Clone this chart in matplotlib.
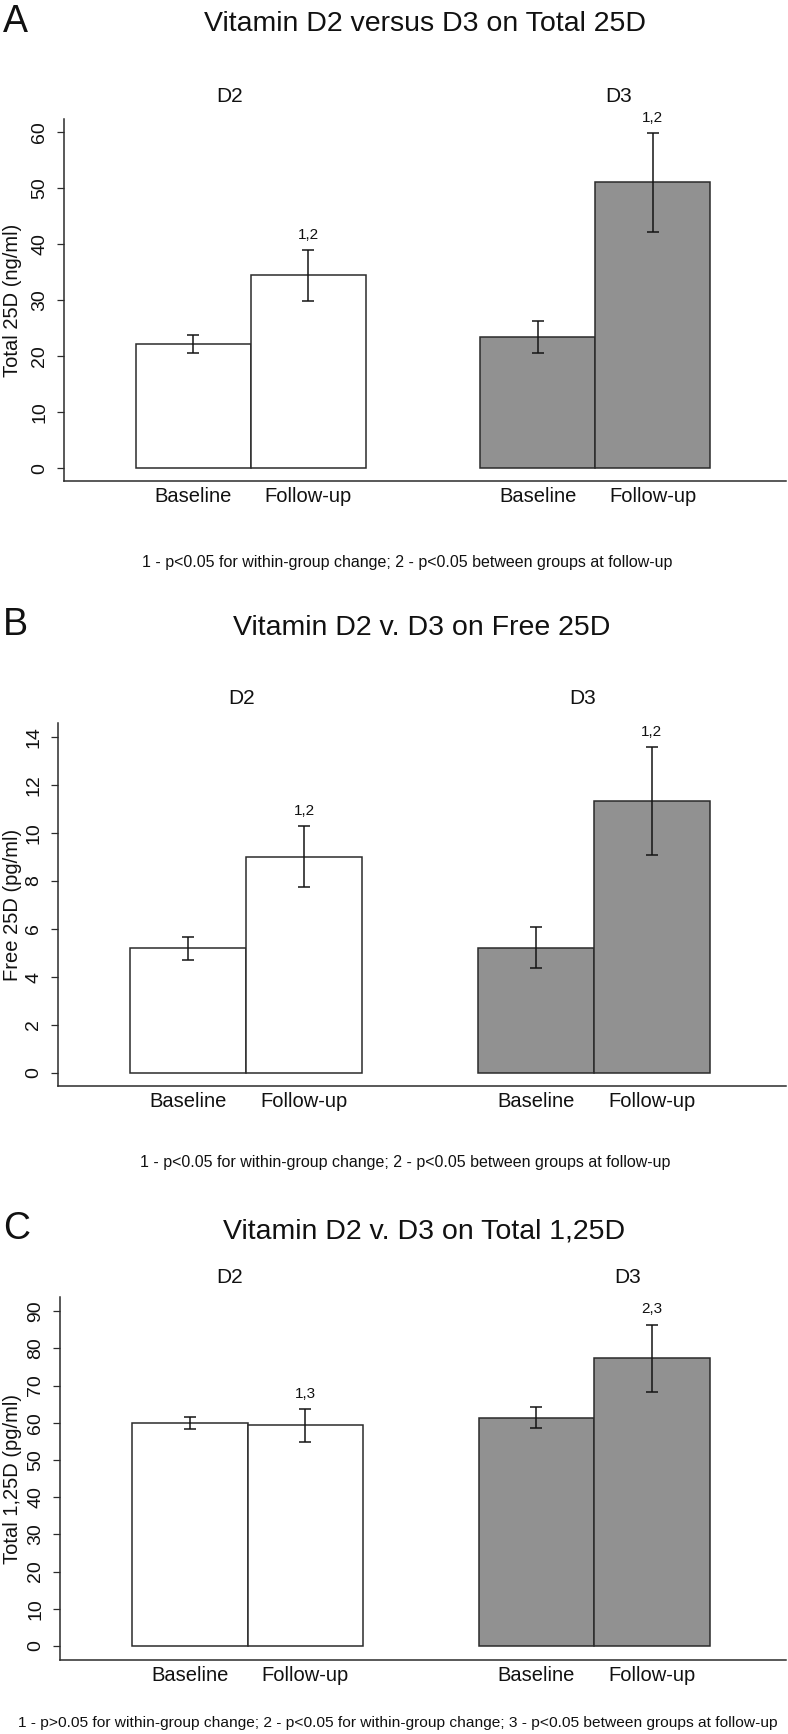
import matplotlib
matplotlib.use("Agg")
import matplotlib.pyplot as plt
from matplotlib import font_manager

# ---------------- data ----------------
groups = ["D2", "D3"]
timepoints = ["Baseline", "Follow-up"]

total25d_d2_mean = [22.2, 34.4]
total25d_d2_err = [1.6, 4.5]
total25d_d3_mean = [23.4, 51.0]
total25d_d3_err = [2.9, 8.8]
total25d_d2_note = ["", "1,2"]
total25d_d3_note = ["", "1,2"]

free25d_d2_mean = [5.19, 9.0]
free25d_d2_err = [0.47, 1.27]
free25d_d3_mean = [5.22, 11.33]
free25d_d3_err = [0.85, 2.23]
free25d_d2_note = ["", "1,2"]
free25d_d3_note = ["", "1,2"]

total125d_d2_mean = [60.0, 59.3]
total125d_d2_err = [1.6, 4.5]
total125d_d3_mean = [61.4, 77.4]
total125d_d3_err = [2.9, 9.0]
total125d_d2_note = ["", "1,3"]
total125d_d3_note = ["", "2,3"]

panel_letters = ["A", "B", "C"]
panel_titles = ["Vitamin D2 versus D3 on Total 25D",
                "Vitamin D2 v. D3 on Free 25D",
                "Vitamin D2 v. D3 on Total 1,25D"]
y_labels = ["Total 25D (ng/ml)", "Free 25D (pg/ml)", "Total 1,25D (pg/ml)"]
y_ticks = [list(range(0, 61, 10)), list(range(0, 15, 2)), list(range(0, 91, 10))]
footnotes = [
    "1 - p<0.05 for within-group change; 2 - p<0.05 between groups at follow-up",
    "1 - p<0.05 for within-group change; 2 - p<0.05 between groups at follow-up",
    "1 - p>0.05 for within-group change; 2 - p<0.05 for within-group change; 3 - p<0.05 between groups at follow-up",
]

panel_data = [
    (total25d_d2_mean, total25d_d2_err, total25d_d2_note,
     total25d_d3_mean, total25d_d3_err, total25d_d3_note),
    (free25d_d2_mean, free25d_d2_err, free25d_d2_note,
     free25d_d3_mean, free25d_d3_err, free25d_d3_note),
    (total125d_d2_mean, total125d_d2_err, total125d_d2_note,
     total125d_d3_mean, total125d_d3_err, total125d_d3_note),
]

# ---------------- layout (pixels) ----------------
W, H = 788, 1734
layout = [
    dict(letter_base=31.7, title_base=31, title_x=425, grp_base=101.7, grp_x=[230, 619],
         left=64, top=119, bottom=481, ylim=(-2.3, 62.3), foot_x=407, foot_base=567, foot_size=11.5),
    dict(letter_base=635, title_base=635, title_x=422, grp_base=704, grp_x=[242, 583],
         left=58, top=723, bottom=1086, ylim=(-0.54, 14.58), foot_x=405, foot_base=1167, foot_size=11.5),
    dict(letter_base=1239, title_base=1239, title_x=424, grp_base=1283, grp_x=[230, 628],
         left=60, top=1297, bottom=1660, ylim=(-3.76, 93.8), foot_x=398, foot_base=1727, foot_size=11.15),
]
RIGHT = 786
XLIM = (-0.625, 5.66)
bar_pos = [[0.5, 1.5], [3.5, 4.5]]
fills = ["white", "#919191"]

names = {f.name for f in font_manager.fontManager.ttflist}
BASE = "Liberation Sans" if "Liberation Sans" in names else "DejaVu Sans"
NARROW = "Liberation Sans Narrow" if "Liberation Sans Narrow" in names else None
plt.rcParams["font.family"] = [BASE, "DejaVu Sans"]
if NARROW:
    ytick_font = dict(family=[NARROW, BASE], size=15)
else:
    ytick_font = dict(family=[BASE], size=14)

TXT = "#111111"
LINE = "#2b2b2b"

fig = plt.figure(figsize=(W / 100, H / 100), dpi=100)


def fy(px):
    return 1 - px / H


for i in range(3):
    L = layout[i]
    d2m, d2e, d2n, d3m, d3e, d3n = panel_data[i]
    ax = fig.add_axes([L["left"] / W, 1 - L["bottom"] / H,
                       (RIGHT - L["left"]) / W, (L["bottom"] - L["top"]) / H])
    ax_w = RIGHT - L["left"]
    for g, (m, e, n) in enumerate([(d2m, d2e, d2n), (d3m, d3e, d3n)]):
        ax.bar(bar_pos[g], m, width=1.0, color=fills[g], edgecolor=LINE,
               linewidth=1.1, zorder=2)
        ax.errorbar(bar_pos[g], m, yerr=e, fmt="none", ecolor="#151515",
                    elinewidth=1.1, capsize=4.3, capthick=1.1, zorder=3)
        for x, mm, ee, note in zip(bar_pos[g], m, e, n):
            if note:
                ax.annotate(note, xy=(x, mm + ee), xytext=(0, 8),
                            textcoords="offset points", ha="center",
                            va="baseline", fontsize=11, color=TXT,
                            annotation_clip=False)
    ax.set_xlim(*XLIM)
    ax.set_ylim(*L["ylim"])
    for s in ["top", "right"]:
        ax.spines[s].set_visible(False)
    for s in ["left", "bottom"]:
        ax.spines[s].set_color(LINE)
        ax.spines[s].set_linewidth(1.1)
    ax.set_xticks(bar_pos[0] + bar_pos[1])
    ax.set_xticklabels(timepoints * 2, fontsize=14.5, color=TXT)
    ax.tick_params(axis="x", length=0, pad=4.5)
    ax.set_yticks(y_ticks[i])
    ax.set_yticklabels([str(t) for t in y_ticks[i]], rotation=90, va="center",
                       color=TXT, **ytick_font)
    ax.tick_params(axis="y", length=5, width=0.9, color=LINE, pad=6.5)
    ax.set_ylabel(y_labels[i], fontsize=14.5, color=TXT)
    ax.yaxis.set_label_coords((22 - L["left"]) / ax_w, 0.5)
    ax.patch.set_alpha(0)

    fig.text(3 / W, fy(L["letter_base"]), panel_letters[i], fontsize=27,
             ha="left", va="baseline", color=TXT)
    fig.text(L["title_x"] / W, fy(L["title_base"]), panel_titles[i],
             fontsize=20.5, ha="center", va="baseline", color=TXT)
    for g in range(2):
        fig.text(L["grp_x"][g] / W, fy(L["grp_base"]), groups[g], fontsize=15,
                 ha="center", va="baseline", color=TXT)
    fig.text(L["foot_x"] / W, fy(L["foot_base"]), footnotes[i], fontsize=L["foot_size"],
             ha="center", va="baseline", color=TXT)

fig.savefig("out.png", dpi=100, facecolor="white")
